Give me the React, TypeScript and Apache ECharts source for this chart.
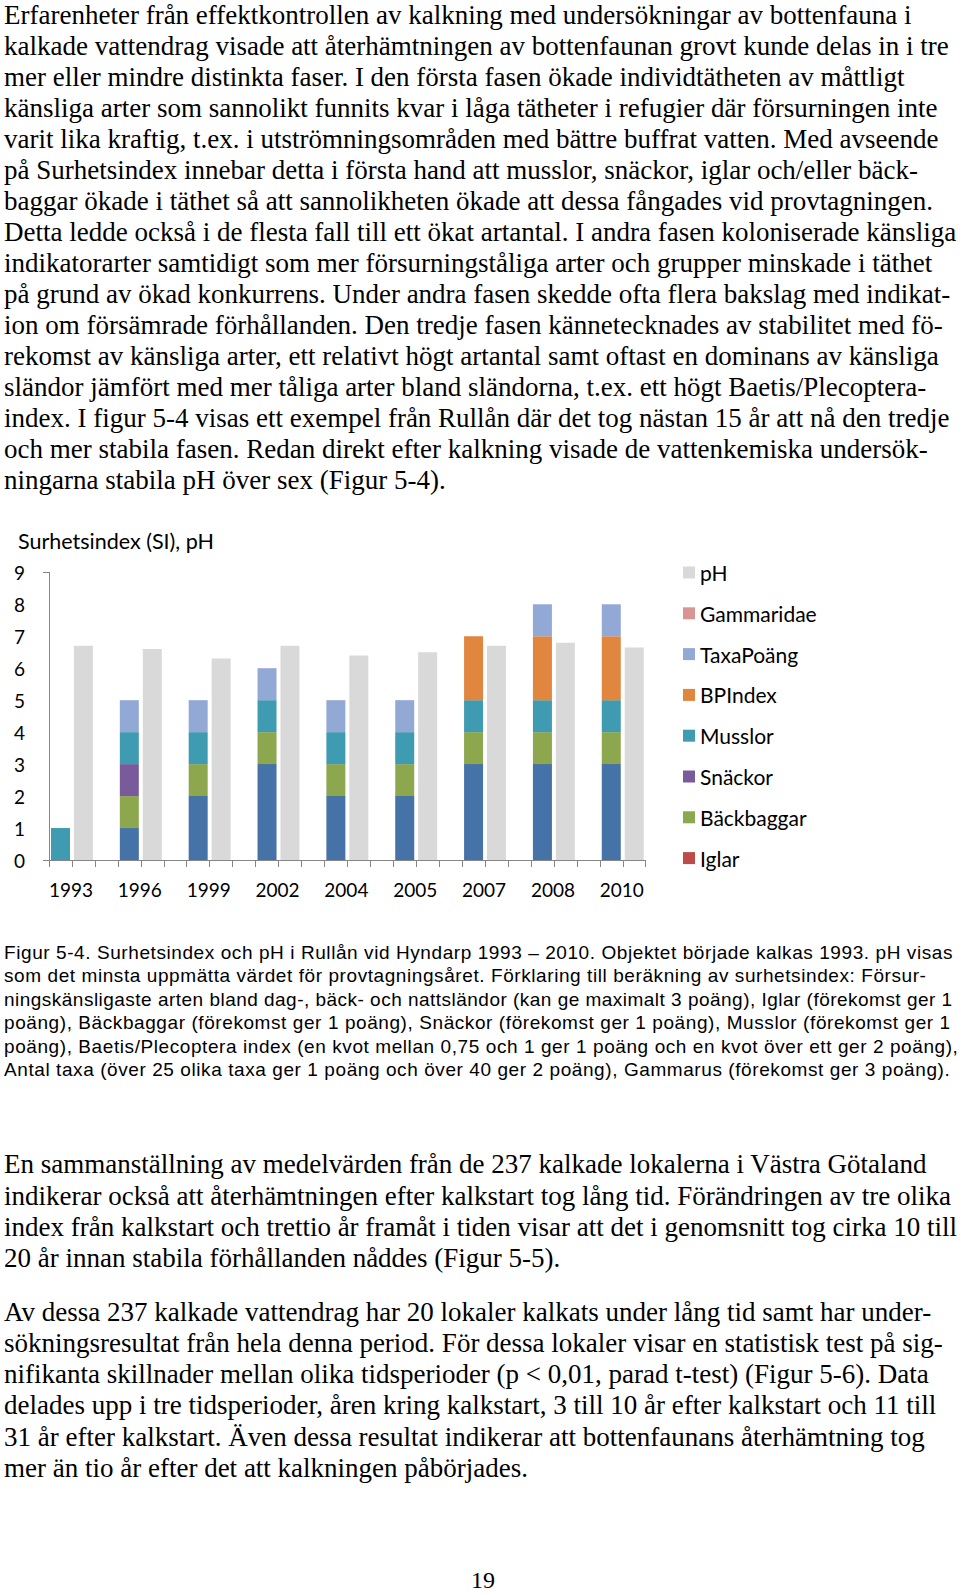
import React, { useEffect, useRef } from "react";
import * as echarts from "echarts";

// ---- chart data ----
const years = ["1993", "1996", "1999", "2002", "2004", "2005", "2007", "2008", "2010"];
const slandor = [0, 1, 2, 3, 2, 2, 3, 3, 3];
const iglar = [0, 0, 0, 0, 0, 0, 0, 0, 0];
const backbaggar = [0, 1, 1, 1, 1, 1, 1, 1, 1];
const snackor = [0, 1, 0, 0, 0, 0, 0, 0, 0];
const musslor = [1, 1, 1, 1, 1, 1, 1, 1, 1];
const bpindex = [0, 0, 0, 0, 0, 0, 2, 2, 2];
const taxapoang = [0, 1, 1, 1, 1, 1, 0, 1, 1];
const gammaridae = [0, 0, 0, 0, 0, 0, 0, 0, 0];
const ph = [6.7, 6.6, 6.3, 6.7, 6.4, 6.5, 6.7, 6.8, 6.65];
const yTicks = [0, 1, 2, 3, 4, 5, 6, 7, 8, 9];
const legendOrder = ["pH", "Gammaridae", "TaxaPoäng", "BPIndex", "Musslor", "Snäckor", "Bäckbaggar", "Iglar"];

// ---- page text ----
const para1 = [
  "Erfarenheter från effektkontrollen av kalkning med undersökningar av bottenfauna i",
  "kalkade vattendrag visade att återhämtningen av bottenfaunan grovt kunde delas in i tre",
  "mer eller mindre distinkta faser. I den första fasen ökade individtätheten av måttligt",
  "känsliga arter som sannolikt funnits kvar i låga tätheter i refugier där försurningen inte",
  "varit lika kraftig, t.ex. i utströmningsområden med bättre buffrat vatten. Med avseende",
  "på Surhetsindex innebar detta i första hand att musslor, snäckor, iglar och/eller bäck-",
  "baggar ökade i täthet så att sannolikheten ökade att dessa fångades vid provtagningen.",
  "Detta ledde också i de flesta fall till ett ökat artantal. I andra fasen koloniserade känsliga",
  "indikatorarter samtidigt som mer försurningståliga arter och grupper minskade i täthet",
  "på grund av ökad konkurrens. Under andra fasen skedde ofta flera bakslag med indikat-",
  "ion om försämrade förhållanden. Den tredje fasen kännetecknades av stabilitet med fö-",
  "rekomst av känsliga arter, ett relativt högt artantal samt oftast en dominans av känsliga",
  "sländor jämfört med mer tåliga arter bland sländorna, t.ex. ett högt Baetis/Plecoptera-",
  "index. I figur 5-4 visas ett exempel från Rullån där det tog nästan 15 år att nå den tredje",
  "och mer stabila fasen. Redan direkt efter kalkning visade de vattenkemiska undersök-",
  "ningarna stabila pH över sex (Figur 5-4).",
];
const caption = [
  "Figur 5-4. Surhetsindex och pH i Rullån vid Hyndarp 1993 – 2010. Objektet började kalkas 1993. pH visas",
  "som det minsta uppmätta värdet för provtagningsåret. Förklaring till beräkning av surhetsindex: Försur-",
  "ningskänsligaste arten bland dag-, bäck- och nattsländor (kan ge maximalt 3 poäng), Iglar (förekomst ger 1",
  "poäng), Bäckbaggar (förekomst ger 1 poäng), Snäckor (förekomst ger 1 poäng), Musslor (förekomst ger 1",
  "poäng), Baetis/Plecoptera index (en kvot mellan 0,75 och 1 ger 1 poäng och en kvot över ett ger 2 poäng),",
  "Antal taxa (över 25 olika taxa ger 1 poäng och över 40 ger 2 poäng), Gammarus (förekomst ger 3 poäng).",
];
const para2 = [
  "En sammanställning av medelvärden från de 237 kalkade lokalerna i Västra Götaland",
  "indikerar också att återhämtningen efter kalkstart tog lång tid. Förändringen av tre olika",
  "index från kalkstart och trettio år framåt i tiden visar att det i genomsnitt tog cirka 10 till",
  "20 år innan stabila förhållanden nåddes (Figur 5-5).",
];
const para3 = [
  "Av dessa 237 kalkade vattendrag har 20 lokaler kalkats under lång tid samt har under-",
  "sökningsresultat från hela denna period. För dessa lokaler visar en statistisk test på sig-",
  "nifikanta skillnader mellan olika tidsperioder (p < 0,01, parad t-test) (Figur 5-6). Data",
  "delades upp i tre tidsperioder, åren kring kalkstart, 3 till 10 år efter kalkstart och 11 till",
  "31 år efter kalkstart. Även dessa resultat indikerar att bottenfaunans återhämtning tog",
  "mer än tio år efter det att kalkningen påbörjades.",
];
const pageNumber = "19";

// slot layout: per year [SI stack, pH, gap] (no gap after last year)
const slotKeys: string[] = [];
years.forEach((y, i) => {
  slotKeys.push(y);
  slotKeys.push(y + "|pH");
  if (i < years.length - 1) slotKeys.push(y + "|gap");
});
const siSlots = (arr: number[]) =>
  slotKeys.map((k) => {
    if (k.includes("|")) return null;
    return arr[years.indexOf(k)];
  });
const phSlots = slotKeys.map((k) => (k.endsWith("|pH") ? ph[years.indexOf(k.split("|")[0])] : null));

const FONT = "Lato, 'Open Sans', sans-serif";

function buildOption() {
  const mk = (name: string, data: (number | null)[], color: string) => ({
    name,
    type: "bar",
    stack: "all",
    barWidth: 19,
    data,
    itemStyle: { color },
  });
  return {
    animation: false,
    textStyle: { fontFamily: FONT },
    title: {
      text: "Surhetsindex (SI), pH",
      left: 18,
      top: 30,
      padding: 0,
      textStyle: { fontFamily: FONT, fontSize: 21.5, fontWeight: "normal", color: "#000", lineHeight: 22 },
    },
    legend: {
      orient: "vertical",
      left: 683,
      top: 62,
      padding: 0,
      itemWidth: 12,
      itemHeight: 12,
      itemGap: 19.8,
      icon: "rect",
      selectedMode: false,
      data: legendOrder,
      textStyle: { fontFamily: FONT, fontSize: 21, lineHeight: 21, color: "#000" },
    },
    grid: { left: 49, top: 72.3, width: 596.7, height: 287.7, containLabel: false },
    xAxis: {
      type: "category",
      data: slotKeys,
      boundaryGap: true,
      axisLine: { lineStyle: { color: "#868686", width: 1 } },
      axisTick: { show: true, interval: 0, length: 7, lineStyle: { color: "#868686" } },
      axisLabel: {
        interval: 0,
        margin: 20,
        fontFamily: FONT,
        fontSize: 19,
        color: "#000",
        padding: [0, 0, 0, 21],
        formatter: (v: string) => (v.includes("|") ? "" : v),
      },
      splitLine: { show: false },
    },
    yAxis: {
      type: "value",
      min: yTicks[0],
      max: yTicks[yTicks.length - 1],
      interval: 1,
      axisLine: { show: true, lineStyle: { color: "#868686", width: 1 } },
      axisTick: { show: true, length: 6, customValues: [0, 9], lineStyle: { color: "#868686" } },
      axisLabel: { margin: 24, fontFamily: FONT, fontSize: 19, color: "#000" },
      splitLine: { show: false },
    },
    series: [
      mk("Sländor", siSlots(slandor), "#4572A7"),
      mk("Iglar", siSlots(iglar), "#BE4B48"),
      mk("Bäckbaggar", siSlots(backbaggar), "#8DA74E"),
      mk("Snäckor", siSlots(snackor), "#795A9B"),
      mk("Musslor", siSlots(musslor), "#3F9BB1"),
      mk("BPIndex", siSlots(bpindex), "#E0863F"),
      mk("TaxaPoäng", siSlots(taxapoang), "#93A9D5"),
      mk("Gammaridae", siSlots(gammaridae), "#D79593"),
      mk("pH", phSlots, "#D9D9D9"),
    ],
  };
}

const serif = "'Liberation Serif', 'Times New Roman', serif";
const sans = "'Liberation Sans', Arial, sans-serif";

function Lines({
  lines,
  start,
  step,
  font,
  size,
  lh,
  ls = [],
}: {
  lines: string[];
  start: number;
  step: number;
  font: string;
  size: number;
  lh: number;
  ls?: number[];
}) {
  return (
    <>
      {lines.map((t, i) => (
        <div
          key={i}
          style={{
            position: "absolute",
            left: 4,
            top: start + i * step - lh / 2,
            height: lh,
            lineHeight: lh + "px",
            fontSize: size,
            fontFamily: font,
            letterSpacing: ls[i] ?? 0,
            whiteSpace: "pre",
            color: "#000",
          }}
        >
          {t}
        </div>
      ))}
    </>
  );
}

export default function App() {
  const ref = useRef<HTMLDivElement>(null);
  useEffect(() => {
    if (!ref.current) return;
    const chart = echarts.init(ref.current, null, { renderer: "svg" });
    chart.setOption(buildOption() as any);
    return () => chart.dispose();
  }, []);
  return (
    <div style={{ position: "absolute", left: 0, top: 0, width: 960, height: 1594, overflow: "hidden", background: "#fff" }}>
      <Lines lines={para1} start={14.6} step={31.05} font={serif} size={27} lh={24} />
      <div ref={ref} style={{ position: "absolute", left: 0, top: 500, width: 960, height: 410 }} />
      <Lines
        lines={caption}
        start={953}
        step={23.4}
        font={sans}
        size={19}
        lh={22}
        ls={[0.58, 0.58, 0.48, 0.58, 0.58, 0.58]}
      />
      <Lines lines={para2} start={1164.4} step={31.19} font={serif} size={27} lh={24} />
      <Lines lines={para3} start={1311.9} step={31.19} font={serif} size={27} lh={24} />
      <div
        style={{
          position: "absolute",
          left: 0,
          width: 966,
          textAlign: "center",
          top: 1570,
          height: 20,
          lineHeight: "20px",
          fontSize: 24,
          fontFamily: serif,
          color: "#000",
        }}
      >
        {pageNumber}
      </div>
    </div>
  );
}
